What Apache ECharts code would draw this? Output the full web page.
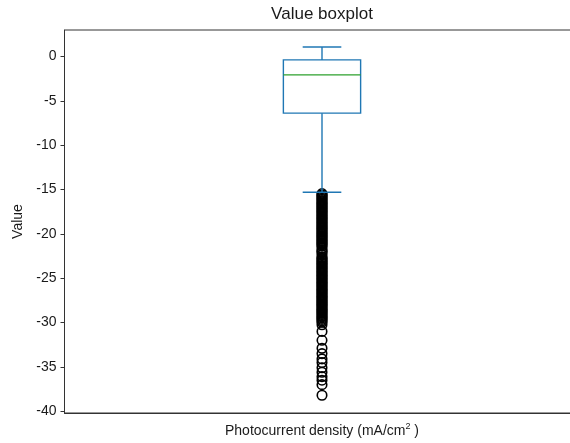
<!DOCTYPE html>
<html>
<head>
<meta charset="utf-8">
<script src="https://cdn.jsdelivr.net/npm/echarts@6/dist/echarts.min.js"></script>
<style>
  html, body { margin: 0; padding: 0; background: #fff; overflow: hidden; }
  #chart { width: 570px; height: 443px; }
</style>
</head>
<body>
<div id="chart"></div>
<script>
// Category on the x axis
const categories = ['Photocurrent density (mA/cm{sup|2} )'];

// Box statistics: [lower whisker, Q1, median, Q3, upper whisker]
const boxStats = [-15.3, -6.38, -2.06, -0.37, 1.09];

// Outliers below the lower whisker
const fliers = [
  -15.45, -15.58, -15.7, -15.84, -15.97, -16.1, -16.24, -16.36, -16.5, -16.63,
  -16.77, -16.9, -17.02, -17.16, -17.3, -17.43, -17.55, -17.69, -17.82, -17.96,
  -18.08, -18.22, -18.35, -18.49, -18.61, -18.75, -18.88, -19.01, -19.15, -19.28,
  -19.4, -19.54, -19.67, -19.8, -19.94, -20.07, -20.2, -20.33, -20.47, -20.6,
  -20.73, -20.86, -21.0, -21.12, -21.26, -21.38, -21.62, -21.85, -21.98, -22.1,
  -22.36, -22.62, -22.75, -22.88, -23.01, -23.15, -23.28, -23.4, -23.54, -23.67,
  -23.8, -23.93, -24.07, -24.2, -24.33, -24.46, -24.6, -24.72, -24.86, -24.99,
  -25.12, -25.25, -25.39, -25.52, -25.65, -25.78, -25.91, -26.05, -26.18, -26.31,
  -26.44, -26.58, -26.7, -26.84, -26.97, -27.1, -27.23, -27.37, -27.5, -27.63,
  -27.76, -27.9, -28.03, -28.16, -28.29, -28.43, -28.56, -28.69, -28.82, -28.96,
  -29.09, -29.22, -29.36, -29.5, -29.64, -29.8, -29.97, -30.25,
  -31.0, -32.0, -32.9, -33.5, -34.1, -34.5, -35.1, -35.6, -36.1, -36.5,
  -37.0, -38.2
];

// Y tick values
const yTicks = [0, -5, -10, -15, -20, -25, -30, -35, -40];

const FONT = '"Liberation Sans", Arial, sans-serif';
const BOX_COLOR = '#1f77b4';
const MEDIAN_COLOR = '#2ca02c';

const chart = echarts.init(document.getElementById('chart'), null, { renderer: 'canvas' });

function renderBox(params, api) {
  const lowW = api.value(1), q1 = api.value(2), med = api.value(3), q3 = api.value(4), highW = api.value(5);
  const band = api.size([1, 0])[0];
  const cx = api.coord([api.value(0), med])[0];
  const halfBox = band * 0.075;
  const halfCap = halfBox / 2;
  const y = v => api.coord([api.value(0), v])[1];
  const style = { stroke: BOX_COLOR, lineWidth: 1.4, fill: null };
  return {
    type: 'group',
    children: [
      { type: 'rect', shape: { x: cx - halfBox, y: y(q3), width: halfBox * 2, height: y(q1) - y(q3) }, style: style },
      { type: 'line', shape: { x1: cx, y1: y(q3), x2: cx, y2: y(highW) }, style: style },
      { type: 'line', shape: { x1: cx, y1: y(q1), x2: cx, y2: y(lowW) }, style: style },
      { type: 'line', shape: { x1: cx - halfCap, y1: y(highW), x2: cx + halfCap, y2: y(highW) }, style: style },
      { type: 'line', shape: { x1: cx - halfCap, y1: y(lowW), x2: cx + halfCap, y2: y(lowW) }, style: style },
      { type: 'line', shape: { x1: cx - halfBox, y1: y(med), x2: cx + halfBox, y2: y(med) }, style: { stroke: MEDIAN_COLOR, lineWidth: 1.4 } }
    ]
  };
}

chart.setOption({
  animation: false,
  backgroundColor: '#fff',
  textStyle: { fontFamily: FONT },
  graphic: [{
    type: 'text',
    x: 322, y: 14,
    style: { text: 'Value boxplot', font: '17px ' + FONT, fill: '#1a1a1a', textAlign: 'center', textVerticalAlign: 'middle' }
  }],
  grid: {
    left: 64.5, top: 30, bottom: 30, width: 515,
    containLabel: false,
    outerBoundsMode: 'none',
    show: true, borderColor: '#333', borderWidth: 1, backgroundColor: 'transparent'
  },
  xAxis: {
    type: 'category',
    data: categories,
    boundaryGap: true,
    axisLine: { onZero: false, lineStyle: { color: '#333', width: 1 } },
    axisTick: { alignWithLabel: true, length: 4, lineStyle: { color: '#333' } },
    axisLabel: {
      margin: 9,
      fontSize: 14,
      color: '#1a1a1a',
      fontFamily: FONT,
      rich: {
        sup: { fontSize: 9, color: '#1a1a1a', fontFamily: FONT, verticalAlign: 'top', padding: [0, 0, 10, 0] }
      }
    },
    splitLine: { show: false }
  },
  yAxis: {
    type: 'value',
    min: -40.2,
    max: 3.0,
    name: 'Value',
    nameLocation: 'middle',
    nameGap: 38,
    nameRotate: 90,
    nameTextStyle: { fontSize: 14, color: '#1a1a1a', fontFamily: FONT },
    axisLine: { show: true, lineStyle: { color: '#333', width: 1 } },
    axisTick: { show: true, length: 4, customValues: yTicks, lineStyle: { color: '#333' } },
    axisLabel: { customValues: yTicks, margin: 8, fontSize: 14, color: '#1a1a1a', fontFamily: FONT },
    splitLine: { show: false }
  },
  series: [
    {
      type: 'scatter',
      data: fliers.map(v => [0, v]),
      symbol: 'circle',
      symbolSize: 9.5,
      itemStyle: { color: 'rgba(0,0,0,0)', borderColor: '#000', borderWidth: 1.6, opacity: 1 },
      z: 2,
      silent: true
    },
    {
      type: 'custom',
      renderItem: renderBox,
      data: [[0].concat(boxStats)],
      encode: { x: 0, y: [1, 2, 3, 4, 5] },
      z: 3,
      silent: true
    }
  ]
});
</script>
</body>
</html>
